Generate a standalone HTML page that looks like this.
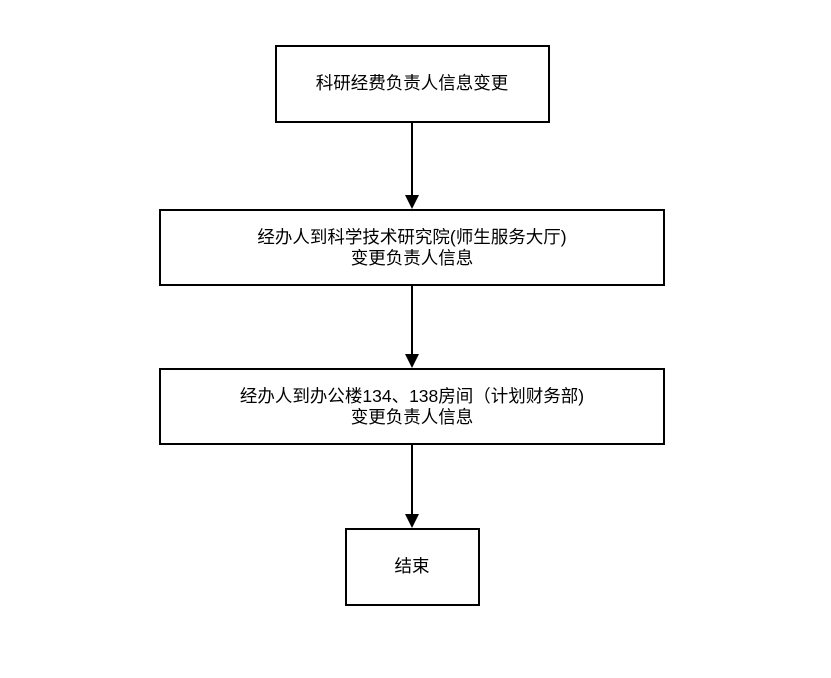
<!DOCTYPE html>
<html><head><meta charset="utf-8"><style>
body{margin:0;width:831px;height:673px;background:#fff;overflow:hidden}
svg text{font-family:"Liberation Sans","Noto Sans CJK SC",sans-serif;font-size:17.5px;fill:#000}
</style></head><body>
<svg width="831" height="673" xmlns="http://www.w3.org/2000/svg">
<g fill="none" stroke="#000" stroke-width="2">
<rect x="276" y="46" width="273" height="76"/>
<rect x="160" y="210" width="504" height="75"/>
<rect x="160" y="369" width="504" height="75"/>
<rect x="346" y="529" width="133" height="76"/>
<line x1="412" y1="122" x2="412" y2="198"/>
<line x1="412" y1="285" x2="412" y2="357"/>
<line x1="412" y1="444" x2="412" y2="517"/>
</g>
<g fill="#000">
<polygon points="405,195 419,195 412,209"/>
<polygon points="405,354 419,354 412,368"/>
<polygon points="405,514 419,514 412,528"/>
</g>
<text x="412" y="89" text-anchor="middle">科研经费负责人信息变更</text>
<text x="412" y="243" text-anchor="middle">经办人到科学技术研究院(师生服务大厅)</text>
<text x="412" y="264" text-anchor="middle">变更负责人信息</text>
<text x="412" y="402" text-anchor="middle">经办人到办公楼134、138房间（计划财务部)</text>
<text x="412" y="423" text-anchor="middle">变更负责人信息</text>
<text x="412" y="572" text-anchor="middle">结束</text>
</svg>
</body></html>
